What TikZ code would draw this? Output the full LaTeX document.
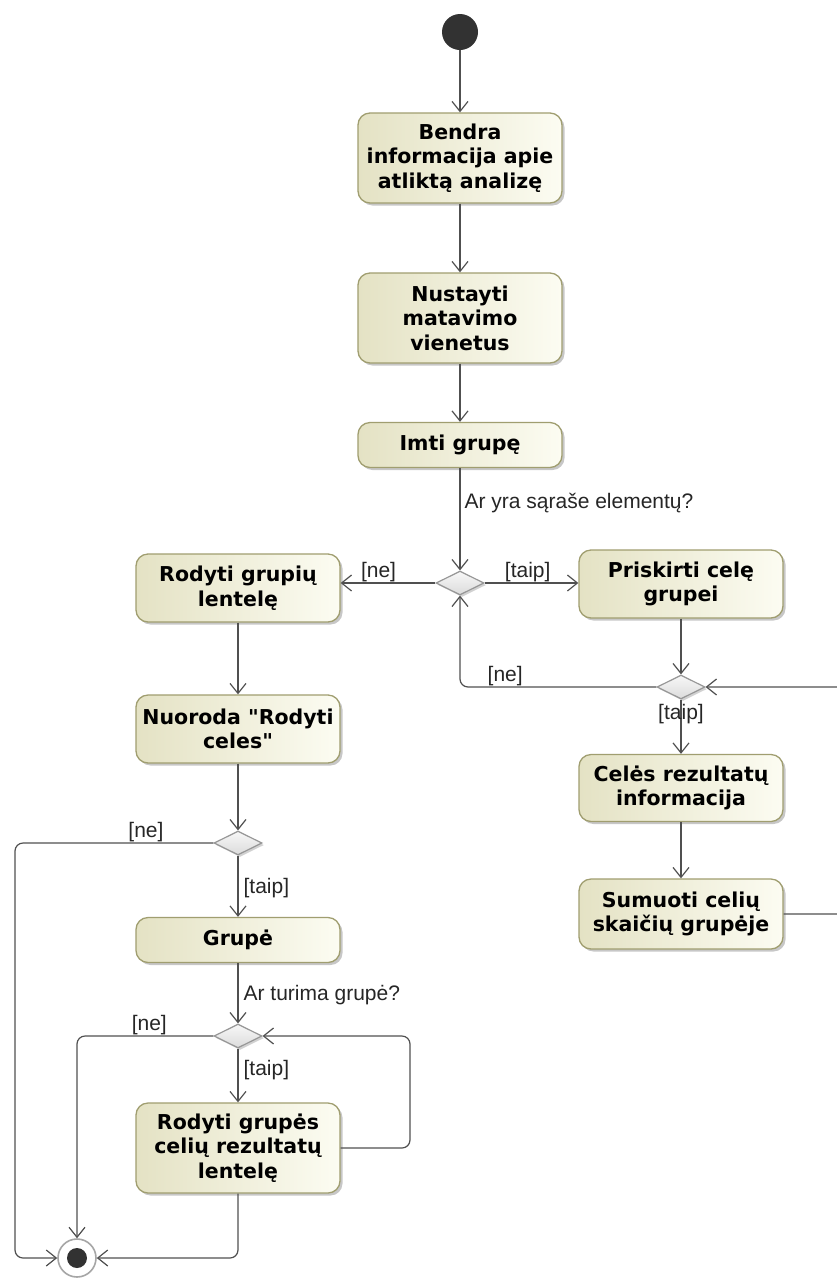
\documentclass[tikz,border=0pt]{standalone}
\usepackage{fontspec}
\setmainfont{Liberation Sans}
\newfontfamily\boxfont{DejaVu Sans}
\usetikzlibrary{arrows.meta,shapes.geometric,shadows}

\definecolor{edgec}{RGB}{80,80,80}
\definecolor{boxborder}{RGB}{160,158,112}
\definecolor{boxdark}{RGB}{228,226,196}
\definecolor{boxlight}{RGB}{252,252,242}
\definecolor{dotc}{RGB}{50,50,50}
\definecolor{diamc}{RGB}{150,150,150}

\begin{document}
\begin{tikzpicture}[x=1pt,y=-1pt,
  action/.style={draw=boxborder, line width=1.3pt, rounded corners=12pt,
    left color=boxdark, right color=boxlight, minimum width=204pt,
    text=black, font=\boxfont\bfseries\fontsize{20.5}{24.5}\selectfont,
    align=center, inner sep=0pt,
    drop shadow={shadow xshift=2.5pt, shadow yshift=-2.5pt, opacity=0.22, fill=black}},
  decision/.style={diamond, aspect=2, draw=diamc, line width=1.2pt,
    top color=gray!6, bottom color=gray!28, minimum width=48pt,
    minimum height=24pt, inner sep=0pt,
    drop shadow={shadow xshift=2pt, shadow yshift=-2pt, opacity=0.18, fill=black}},
  initial/.style={circle, fill=dotc, minimum size=36pt, inner sep=0pt},
  final/.style={circle, draw=gray!70, line width=1.6pt, fill=white,
    minimum size=38pt, inner sep=0pt,
    path picture={\fill[dotc] (path picture bounding box.center) circle (10pt);}},
  flow/.style={draw=edgec, line width=1.2pt, rounded corners=8pt,
    -{Straight Barb[length=10pt,width=16pt]}},
  lbl/.style={font=\fontsize{21}{24}\selectfont, inner sep=1pt, text=black!85}]

\useasboundingbox (0,0) rectangle (837,1278);
\clip (0,0) rectangle (837,1278);
\fill[white] (0,0) rectangle (837,1278);

% main column
\node[initial] (start) at (460,32) {};
\node[action, minimum height=90pt] (n1) at (460,158) {Bendra\\informacija apie\\atliktą analizę};
\node[action, minimum height=90pt] (n2) at (460,318) {Nustayti\\matavimo\\vienetus};
\node[action, minimum height=45pt] (n3) at (460,445) {Imti grupę};
\node[decision] (d1) at (460,583) {};

% right branch
\node[action, minimum height=68pt] (prisk) at (681,584) {Priskirti celę\\grupei};
\node[decision] (d2) at (681,687) {};
\node[action, minimum height=67pt] (celes) at (681,788) {Celės rezultatų\\informacija};
\node[action, minimum height=70pt] (sum) at (681,914) {Sumuoti celių\\skaičių grupėje};

% left branch
\node[action, minimum height=68pt] (rodyti) at (238,588) {Rodyti grupių\\lentelę};
\node[action, minimum height=68pt] (nuor) at (238,729) {Nuoroda "Rodyti\\celes"};
\node[decision] (d3) at (238,843) {};
\node[action, minimum height=45pt] (grupe) at (238,940) {Grupė};
\node[decision] (d4) at (238,1036) {};
\node[action, minimum height=90pt] (rodg) at (238,1148) {Rodyti grupės\\celių rezultatų\\lentelę};
\node[final] (fin) at (77,1258) {};

% rails for the loops
\coordinate (rrail) at (870,0);
\coordinate (lrail) at (15,0);
\coordinate (grail) at (410,0);

% connectors
\draw[flow] (start) -- (n1);
\draw[flow] (n1) -- (n2);
\draw[flow] (n2) -- (n3);
\draw[flow] (n3) -- node[lbl, right, pos=0.34, xshift=3pt] {Ar yra sąraše elementų?} (d1);
\draw[flow] (d1.west) -- node[lbl, above, pos=0.6] {[ne]} (d1.west -| rodyti.east);
\draw[flow] (d1.east) -- node[lbl, above, pos=0.46] {[taip]} (d1.east -| prisk.west);

\draw[flow] (prisk) -- (d2);
\draw[flow] (d2.west) -- node[lbl, above, pos=0.77] {[ne]} (d2.west -| d1.south) -- (d1.south);
\draw[flow] (d2) -- node[lbl, pos=0.27] {[taip]} (celes);
\draw[flow] (celes) -- (sum);
\draw[flow] (sum.east) -- (sum.east -| rrail) -- (rrail |- d2.east) -- (d2.east);

\draw[flow] (rodyti) -- (nuor);
\draw[flow] (nuor) -- (d3);
\draw[flow] (d3.west) -- node[lbl, above, pos=0.34] {[ne]} (d3.west -| lrail) -- (lrail |- fin.west) -- (fin.west);
\draw[flow] (d3) -- node[lbl, right, pos=0.53, xshift=4pt] {[taip]} (grupe);
\draw[flow] (grupe) -- node[lbl, right, pos=0.53, xshift=4pt] {Ar turima grupė?} (d4);
\draw[flow] (d4.west) -- node[lbl, above, pos=0.47] {[ne]} (d4.west -| fin.north) -- (fin.north);
\draw[flow] (d4) -- node[lbl, right, pos=0.4, xshift=4pt] {[taip]} (rodg);
\draw[flow] (rodg.east) -- (rodg.east -| grail) -- (grail |- d4.east) -- (d4.east);
\draw[flow] (rodg.south) -- (rodg.south |- fin.east) -- (fin.east);

\end{tikzpicture}
\end{document}
